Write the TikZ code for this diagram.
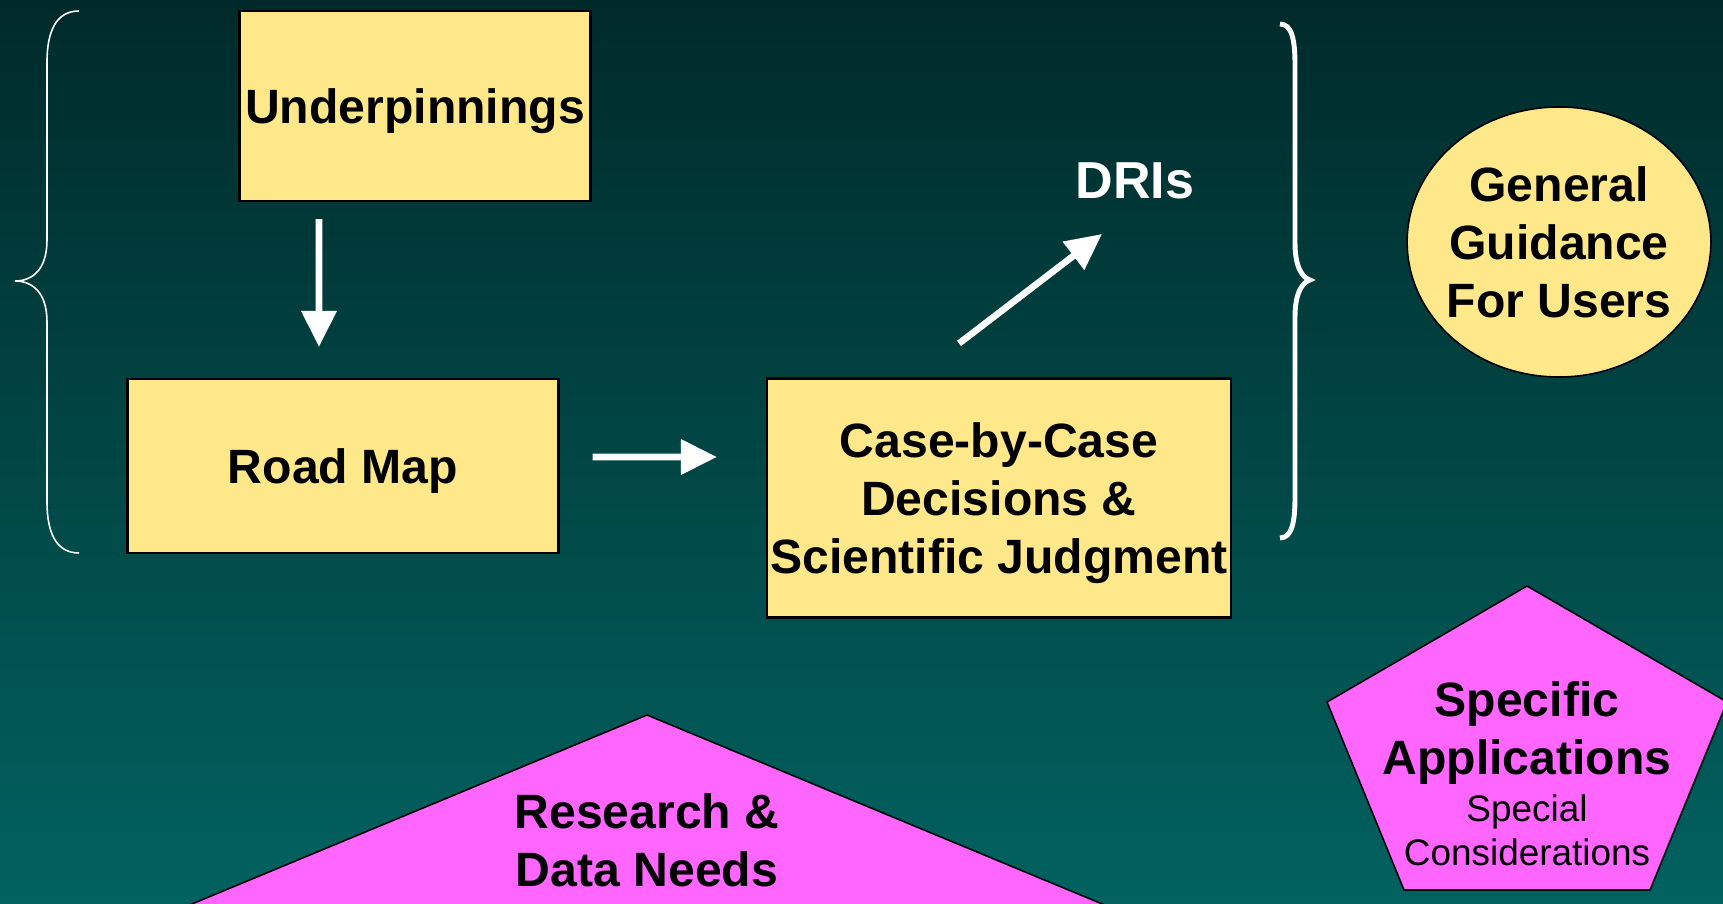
\documentclass[tikz,border=0pt]{standalone}
\usepackage{fontspec}
\setmainfont{Liberation Sans}
\usetikzlibrary{positioning}
\usetikzlibrary{arrows.meta}
\usetikzlibrary{shapes.geometric}
\definecolor{bgtop}{RGB}{0,42,42}
\definecolor{bgbottom}{RGB}{1,98,96}
\definecolor{boxyellow}{RGB}{255,232,138}
\definecolor{padmagenta}{RGB}{255,102,255}

\begin{document}
\begin{tikzpicture}[
    yellowbox/.style={draw, fill=boxyellow, rectangle, line width=0.6pt, inner sep=0pt, text depth=0pt},
    whitearrow/.style={white, line width=1.9pt, -{Triangle[length=0.36cm, width=0.34cm]}},
    bigtext/.style={font=\bfseries\fontsize{13.7}{16.5}\selectfont}
  ]
  \clip (0,0) rectangle (17.23,-9.04);
  \shade[top color=bgtop, bottom color=bgbottom] (0,0) rectangle (17.23,-9.04);

  % braces
  \draw[white, line width=0.45pt] (0.79,-0.11) .. controls (0.57,-0.11) and (0.47,-0.30) .. (0.47,-0.62)
    -- (0.47,-2.40) .. controls (0.47,-2.70) and (0.32,-2.81) .. (0.15,-2.81)
    .. controls (0.32,-2.81) and (0.47,-2.92) .. (0.47,-3.22)
    -- (0.47,-5.02) .. controls (0.47,-5.34) and (0.57,-5.53) .. (0.79,-5.53);
  \draw[white, line width=1.4pt] (12.80,-0.24) .. controls (12.92,-0.24) and (12.95,-0.40) .. (12.95,-0.65)
    -- (12.95,-2.43) .. controls (12.95,-2.65) and (13.01,-2.77) .. (13.10,-2.80)
    .. controls (13.01,-2.83) and (12.95,-2.95) .. (12.95,-3.17)
    -- (12.95,-4.97) .. controls (12.95,-5.22) and (12.92,-5.38) .. (12.80,-5.38);

  % triangle and pentagon
  \draw[fill=padmagenta, line width=0.45pt] (6.47,-7.15) -- (0.81,-9.50) -- (12.13,-9.50) -- cycle;
  \draw[fill=padmagenta, line width=0.45pt] (15.27,-5.86) -- (13.27,-7.02) -- (14.04,-8.90)
    -- (16.50,-8.90) -- (17.27,-7.02) -- cycle;

  \begin{scope}[every node/.style={bigtext, align=center}]
    \node[yellowbox, minimum width=3.51cm, minimum height=1.90cm] (under) at (4.15,-1.06) {Underpinnings};
    \node[yellowbox, minimum width=4.31cm, minimum height=1.74cm] (road) at (3.43,-4.66) {Road Map};
    \node[yellowbox, minimum width=4.64cm, minimum height=2.39cm] (case) at (9.99,-4.98)
      {Case-by-Case\\ Decisions \&\\ Scientific Judgment};
    \node[white, font=\bfseries\fontsize{14.8}{17}\selectfont] (dris) at (11.35,-1.81) {DRIs};
    \node[draw, fill=boxyellow, ellipse, line width=0.45pt, inner xsep=-0.05cm, inner ysep=0.15cm,
      minimum width=3.02cm, minimum height=2.70cm] (guide) at (15.59,-2.42) {General\\ Guidance\\ For Users};
    \node (needs) at (6.47,-8.40) {Research \&\\ Data Needs};
    \node (apps) at (15.27,-7.74) {Specific\\ Applications\\[-3.1pt]
      {\mdseries\fontsize{10.5}{12.5}\selectfont Special}\\[-4pt]
      {\mdseries\fontsize{10.5}{12.5}\selectfont Considerations}};
  \end{scope}

  \draw[whitearrow] ([xshift=-0.96cm,yshift=-0.17cm]under.south) -- ([xshift=-0.24cm,yshift=0.31cm]road.north);
  \draw[whitearrow] ([xshift=0.33cm,yshift=0.09cm]road.east) -- ([xshift=-0.49cm,yshift=0.41cm]case.west);
  \draw[whitearrow] ([xshift=-0.40cm,yshift=0.34cm]case.north) -- ([xshift=-0.33cm,yshift=-0.53cm]dris.center);
\end{tikzpicture}
\end{document}
